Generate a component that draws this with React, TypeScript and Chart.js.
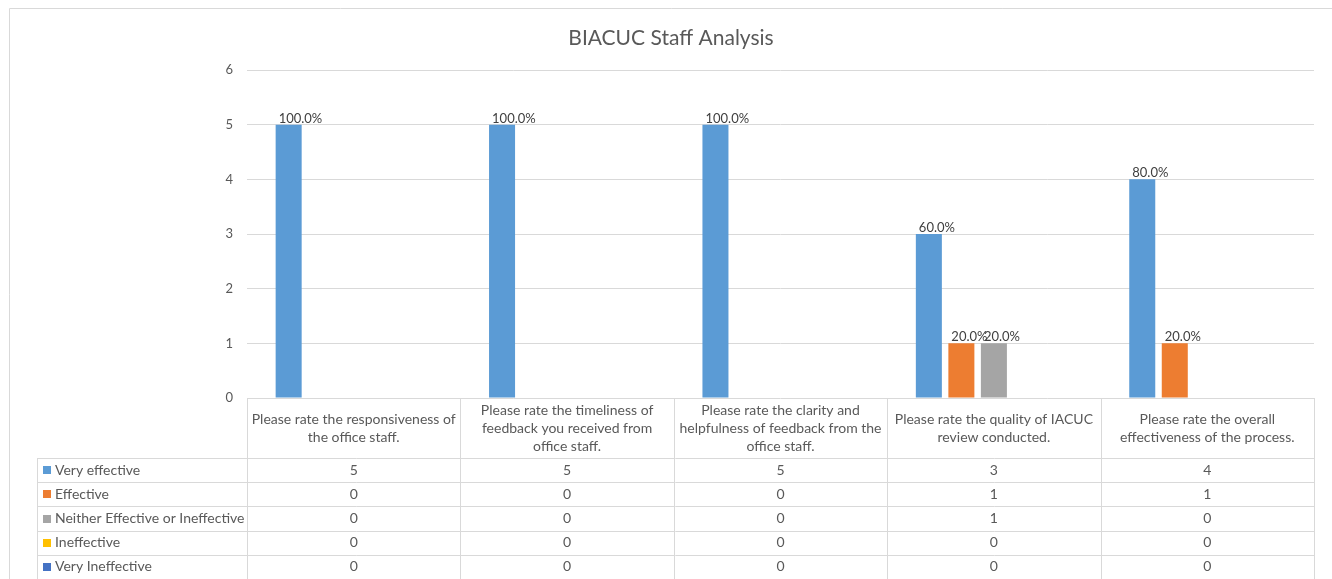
import React, { useEffect, useRef } from "react";
import { Chart, registerables } from "chart.js";

Chart.register(...registerables);

const chartTitle = "BIACUC Staff Analysis";
const categories: string[][] = [
  ["Please rate the responsiveness of", "the office staff."],
  ["Please rate the timeliness of", "feedback you received from", "office staff."],
  ["Please rate the clarity and", "helpfulness of feedback from the", "office staff."],
  ["Please rate the quality of IACUC", "review conducted."],
  ["Please rate the overall", "effectiveness of the process."],
];
const seriesNames = [
  "Very effective",
  "Effective",
  "Neither Effective or Ineffective",
  "Ineffective",
  "Very Ineffective",
];
const veryEffective = [5, 5, 5, 3, 4];
const effective = [0, 0, 0, 1, 1];
const neither = [0, 0, 0, 1, 0];
const ineffective = [0, 0, 0, 0, 0];
const veryIneffective = [0, 0, 0, 0, 0];
const seriesColors = ["#5B9BD5", "#ED7D31", "#A5A5A5", "#FFC000", "#4472C4"];
const yMin = 0;
const yMax = 6;
const yStep = 1;
const totalResponses = 5;

const FONT = "Lato";
const GRID = "#d9d9d9";
const TEXT = "#595959";

const allSeries = [veryEffective, effective, neither, ineffective, veryIneffective];

const overlayPlugin = {
  id: "overlay",
  afterDatasetsDraw(chart: any) {
    const ctx = chart.ctx as CanvasRenderingContext2D;
    const area = chart.chartArea;
    const xs = chart.scales.x;
    ctx.save();

    // outer border
    ctx.strokeStyle = GRID;
    ctx.lineWidth = 1;
    ctx.beginPath();
    ctx.moveTo(9.5, 1000);
    ctx.lineTo(9.5, 8.5);
    ctx.lineTo(2000, 8.5);
    ctx.stroke();

    // title
    ctx.fillStyle = TEXT;
    ctx.font = `21px ${FONT}`;
    ctx.textAlign = "center";
    ctx.textBaseline = "alphabetic";
    ctx.fillText(chartTitle, chart.width / 2 + 5, 45);

    // data labels
    ctx.fillStyle = "#404040";
    ctx.font = `13px ${FONT}`;
    ctx.textAlign = "left";
    ctx.textBaseline = "alphabetic";
    chart.data.datasets.forEach((ds: any, di: number) => {
      const meta = chart.getDatasetMeta(di);
      meta.data.forEach((bar: any, i: number) => {
        const v = ds.data[i];
        if (!v) return;
        const pct = ((v / totalResponses) * 100).toFixed(1) + "%";
        ctx.fillText(pct, bar.x - bar.width / 2 + 3, bar.y - 2);
      });
    });

    // data table
    const colW = (area.right - area.left) / categories.length;
    const headerTop = area.bottom;
    const headerBottom = area.bottom + 60;
    const rowH = 24.2;
    const tableLeft = 37;
    const nRows = seriesNames.length;
    const tableBottom = headerBottom + rowH * nRows;

    ctx.strokeStyle = GRID;
    ctx.lineWidth = 1;
    ctx.beginPath();
    for (let i = 0; i <= categories.length; i++) {
      const x = Math.round(area.left + i * colW) + 0.5;
      ctx.moveTo(x, headerTop);
      ctx.lineTo(x, tableBottom);
    }
    ctx.moveTo(tableLeft + 0.5, headerBottom);
    ctx.lineTo(tableLeft + 0.5, tableBottom);
    for (let r = 0; r <= nRows; r++) {
      const y = Math.round(headerBottom + r * rowH) + 0.5;
      ctx.moveTo(tableLeft, y);
      ctx.lineTo(area.right, y);
    }
    ctx.stroke();

    // header texts
    ctx.fillStyle = TEXT;
    ctx.font = `14px ${FONT}`;
    ctx.textAlign = "center";
    ctx.textBaseline = "middle";
    const lineH = 18;
    categories.forEach((lines, i) => {
      const cx = xs.getPixelForValue(i);
      const mid = (headerTop + headerBottom) / 2;
      const start = mid - ((lines.length - 1) * lineH) / 2;
      lines.forEach((ln, k) => ctx.fillText(ln, cx, start + k * lineH));
    });

    // rows
    seriesNames.forEach((name, r) => {
      const cy = headerBottom + r * rowH + rowH / 2;
      ctx.fillStyle = seriesColors[r];
      ctx.fillRect(43, Math.round(cy - 4), 8, 8);
      ctx.fillStyle = TEXT;
      ctx.textAlign = "left";
      ctx.fillText(name, 55, cy);
      ctx.textAlign = "center";
      allSeries[r].forEach((v, i) => {
        ctx.fillText(String(v), xs.getPixelForValue(i), cy);
      });
    });

    ctx.restore();
  },
};

export default function App() {
  const ref = useRef<HTMLCanvasElement | null>(null);
  useEffect(() => {
    if (!ref.current) return;
    Chart.defaults.font.family = FONT;
    const chart = new Chart(ref.current, {
      type: "bar",
      data: {
        labels: categories.map((c) => c.join(" ")),
        datasets: seriesNames.map((name, i) => ({
          label: name,
          data: allSeries[i],
          backgroundColor: seriesColors[i],
          borderWidth: 0,
          categoryPercentage: 0.762,
          barPercentage: 0.8,
        })),
      },
      options: {
        responsive: false,
        animation: false,
        layout: { padding: { left: 200, right: 18, top: 70, bottom: 181 } },
        plugins: {
          legend: { display: false },
          title: { display: false },
          tooltip: { enabled: false },
        },
        scales: {
          x: { display: false },
          y: {
            min: yMin,
            max: yMax,
            ticks: {
              stepSize: yStep,
              color: TEXT,
              font: { size: 13, family: FONT },
              padding: 14,
            },
            grid: { color: GRID, drawTicks: false },
            border: { display: false },
            afterFit: (s: any) => {
              s.width = 47;
            },
          },
        },
      },
      plugins: [overlayPlugin],
    });
    return () => chart.destroy();
  }, []);
  return (
    <div style={{ position: "absolute", left: 0, top: 0, width: 1332, height: 579, background: "#fff" }}>
      <canvas ref={ref} width={1332} height={579} style={{ display: "block" }} />
    </div>
  );
}
